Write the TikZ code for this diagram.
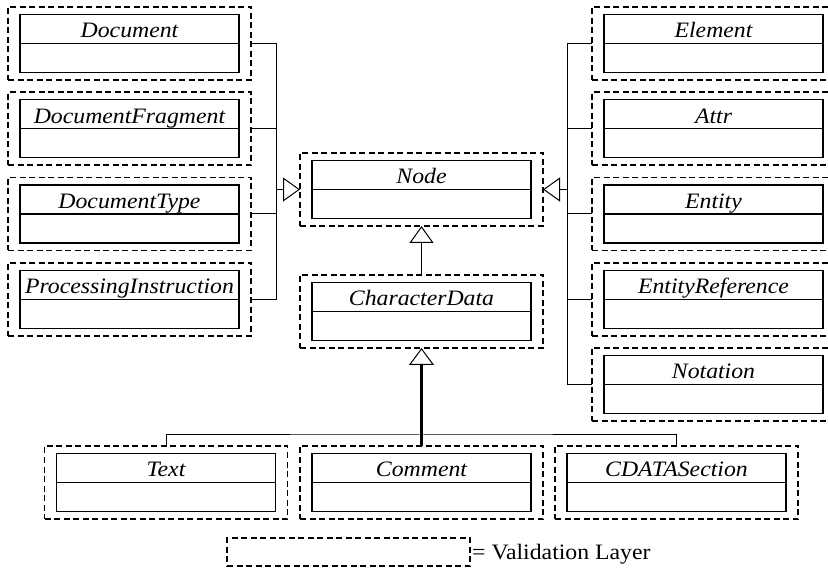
\documentclass[tikz,border=0pt]{standalone}
\usepackage{fontspec}
\usepackage{graphicx}
\setmainfont{Liberation Serif}
\usetikzlibrary{arrows.meta}

\tikzset{
  layer/.style={draw, line width=1.6pt, dash pattern=on 6pt off 3.5pt,
    minimum width=243pt, minimum height=73pt, inner sep=0pt, outer sep=0pt},
  compart/.style={draw, line width=1.3pt, minimum width=219pt, minimum height=29pt,
    inner sep=0pt, outer sep=0pt, text height=21pt, text depth=3.4pt,
    font=\fontsize{22}{26}\selectfont\itshape},
  link/.style={line width=1pt},
  isa/.style={link, -{Triangle[open, length=17pt, width=24pt, line width=1pt]}},
}

% slightly widened type, as in the printed class names
\newcommand\wide[1]{\scalebox{1.08}[1]{#1}}

% a UML class (name + empty body) inside its dashed validation layer
\newcommand\umlclass[4]{%
  \node[layer] (#1) at (#2,#3) {};
  \node[compart] (#1-head) at ([yshift=14.5pt]#1.center) {\wide{#4}};
  \node[compart] (#1-body) at ([yshift=-14.5pt]#1.center) {};
}

\begin{document}
\begin{tikzpicture}[x=1pt, y=-1pt]
  \useasboundingbox (0,0) rectangle (828,569);

  % left column
  \umlclass{doc}{129.5}{43.5}{Document}
  \umlclass{frag}{129.5}{128.75}{DocumentFragment}
  \umlclass{dtype}{129.5}{214}{DocumentType}
  \umlclass{pi}{129.5}{299.25}{ProcessingInstruction}

  % centre
  \umlclass{nodecls}{421.5}{189.5}{Node}
  \umlclass{chardata}{421.5}{311.5}{CharacterData}

  % right column
  \umlclass{elem}{713.5}{43.5}{Element}
  \umlclass{attr}{713.5}{128.75}{Attr}
  \umlclass{ent}{713.5}{214}{Entity}
  \umlclass{eref}{713.5}{299.25}{EntityReference}
  \umlclass{nota}{713.5}{384.5}{Notation}

  % bottom row
  \umlclass{textcls}{166}{482.5}{Text}
  \umlclass{comment}{421.5}{482.5}{Comment}
  \umlclass{cdata}{676.5}{482.5}{CDATASection}

  % bus junctions
  \coordinate (ljoin) at (276,189.5);
  \coordinate (rjoin) at (567,189.5);
  \coordinate (bjoin) at (421.5,435);

  % generalisations into Node
  \foreach \c in {doc,frag,dtype,pi} \draw[link] (\c.east) -| (ljoin);
  \draw[isa] (ljoin) -- (nodecls.west);
  \foreach \c in {elem,attr,ent,eref,nota} \draw[link] (\c.west) -| (rjoin);
  \draw[isa] (rjoin) -- (nodecls.east);
  \draw[isa] (chardata.north) -- (nodecls.south);

  % generalisations into CharacterData
  \draw[link] (textcls.north) |- (bjoin) -| (cdata.north);
  \draw[line width=2.5pt, -{Triangle[open, length=17pt, width=25pt, line width=1pt]}]
    (comment.north) -- (chardata.south);

  % legend
  \node[layer, minimum height=28pt] (legend) at (348.5,552) {};
  \node[anchor=base west, inner sep=0pt, font=\fontsize{22}{26}\selectfont]
    (legendtext) at ([xshift=2pt, yshift=-7.3pt]legend.east) {\wide{= Validation Layer}};
\end{tikzpicture}
\end{document}
